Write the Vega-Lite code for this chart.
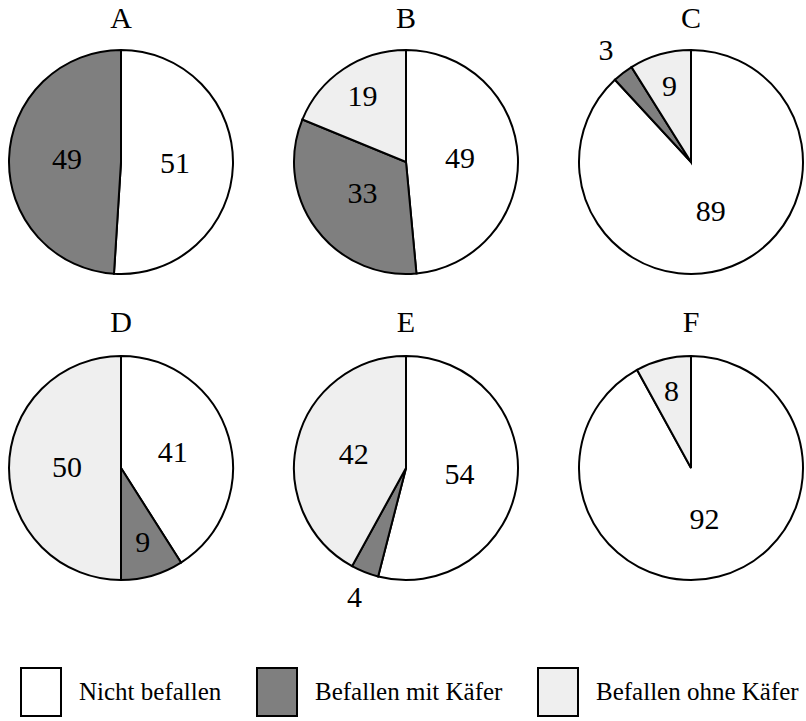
{
  "$schema": "https://vega.github.io/schema/vega-lite/v6.json",
  "background": "white",
  "bounds": "flush",
  "padding": {"left": 1, "top": 4, "right": 0, "bottom": 0},
  "data": {
    "values": [
      {"Diagramm": "A", "Kategorie": "Nicht befallen", "Nr": 1, "Anteil": 51},
      {"Diagramm": "A", "Kategorie": "Befallen mit Käfer", "Nr": 2, "Anteil": 49},
      {"Diagramm": "B", "Kategorie": "Nicht befallen", "Nr": 1, "Anteil": 49},
      {"Diagramm": "B", "Kategorie": "Befallen mit Käfer", "Nr": 2, "Anteil": 33},
      {"Diagramm": "B", "Kategorie": "Befallen ohne Käfer", "Nr": 3, "Anteil": 19},
      {"Diagramm": "C", "Kategorie": "Nicht befallen", "Nr": 1, "Anteil": 89},
      {"Diagramm": "C", "Kategorie": "Befallen mit Käfer", "Nr": 2, "Anteil": 3},
      {"Diagramm": "C", "Kategorie": "Befallen ohne Käfer", "Nr": 3, "Anteil": 9},
      {"Diagramm": "D", "Kategorie": "Nicht befallen", "Nr": 1, "Anteil": 41},
      {"Diagramm": "D", "Kategorie": "Befallen mit Käfer", "Nr": 2, "Anteil": 9},
      {"Diagramm": "D", "Kategorie": "Befallen ohne Käfer", "Nr": 3, "Anteil": 50},
      {"Diagramm": "E", "Kategorie": "Nicht befallen", "Nr": 1, "Anteil": 54},
      {"Diagramm": "E", "Kategorie": "Befallen mit Käfer", "Nr": 2, "Anteil": 4},
      {"Diagramm": "E", "Kategorie": "Befallen ohne Käfer", "Nr": 3, "Anteil": 42},
      {"Diagramm": "F", "Kategorie": "Nicht befallen", "Nr": 1, "Anteil": 92},
      {"Diagramm": "F", "Kategorie": "Befallen ohne Käfer", "Nr": 3, "Anteil": 8}
    ]
  },
  "columns": 3,
  "spacing": {"column": 45, "row": 66},
  "concat": [
    {"transform": [{"filter": "datum.Diagramm == 'A'"}], "width": 240, "height": 240, "layer": [
      {"mark": {"type": "arc", "outerRadius": 112, "stroke": "black", "strokeWidth": 2},
       "encoding": {"theta": {"field": "Anteil", "type": "quantitative", "stack": "normalize"}, "order": {"field": "Nr", "type": "quantitative"},
         "color": {"field": "Kategorie", "type": "nominal", "scale": {"domain": ["Nicht befallen", "Befallen mit Käfer", "Befallen ohne Käfer"], "range": ["#ffffff", "#7f7f7f", "#efefef"]}, "legend": {"title": null}}}},
      {"mark": {"type": "text", "font": "Liberation Serif", "fontSize": 30, "fill": "black"},
       "encoding": {"theta": {"field": "Anteil", "type": "quantitative", "stack": "normalize"}, "order": {"field": "Nr", "type": "quantitative"},
         "radius": {"field": "Anteil", "type": "quantitative", "scale": {"type": "linear", "zero": false, "domain": [0, 4.99, 5, 19.99, 20, 100], "range": [140, 140, 78, 78, 54, 54]}},
         "text": {"field": "Anteil", "type": "quantitative"}}},
      {"transform": [{"filter": "datum.Nr == 1"}], "mark": {"type": "text", "radius": 143, "theta": 0, "font": "Liberation Serif", "fontSize": 30, "fill": "black", "baseline": "middle"},
       "encoding": {"text": {"field": "Diagramm", "type": "nominal"}}}
    ]},
    {"transform": [{"filter": "datum.Diagramm == 'B'"}], "width": 240, "height": 240, "layer": [
      {"mark": {"type": "arc", "outerRadius": 112, "stroke": "black", "strokeWidth": 2},
       "encoding": {"theta": {"field": "Anteil", "type": "quantitative", "stack": "normalize"}, "order": {"field": "Nr", "type": "quantitative"},
         "color": {"field": "Kategorie", "type": "nominal", "scale": {"domain": ["Nicht befallen", "Befallen mit Käfer", "Befallen ohne Käfer"], "range": ["#ffffff", "#7f7f7f", "#efefef"]}, "legend": {"title": null}}}},
      {"mark": {"type": "text", "font": "Liberation Serif", "fontSize": 30, "fill": "black"},
       "encoding": {"theta": {"field": "Anteil", "type": "quantitative", "stack": "normalize"}, "order": {"field": "Nr", "type": "quantitative"},
         "radius": {"field": "Anteil", "type": "quantitative", "scale": {"type": "linear", "zero": false, "domain": [0, 4.99, 5, 19.99, 20, 100], "range": [140, 140, 78, 78, 54, 54]}},
         "text": {"field": "Anteil", "type": "quantitative"}}},
      {"transform": [{"filter": "datum.Nr == 1"}], "mark": {"type": "text", "radius": 143, "theta": 0, "font": "Liberation Serif", "fontSize": 30, "fill": "black", "baseline": "middle"},
       "encoding": {"text": {"field": "Diagramm", "type": "nominal"}}}
    ]},
    {"transform": [{"filter": "datum.Diagramm == 'C'"}], "width": 240, "height": 240, "layer": [
      {"mark": {"type": "arc", "outerRadius": 112, "stroke": "black", "strokeWidth": 2},
       "encoding": {"theta": {"field": "Anteil", "type": "quantitative", "stack": "normalize"}, "order": {"field": "Nr", "type": "quantitative"},
         "color": {"field": "Kategorie", "type": "nominal", "scale": {"domain": ["Nicht befallen", "Befallen mit Käfer", "Befallen ohne Käfer"], "range": ["#ffffff", "#7f7f7f", "#efefef"]}, "legend": {"title": null}}}},
      {"mark": {"type": "text", "font": "Liberation Serif", "fontSize": 30, "fill": "black"},
       "encoding": {"theta": {"field": "Anteil", "type": "quantitative", "stack": "normalize"}, "order": {"field": "Nr", "type": "quantitative"},
         "radius": {"field": "Anteil", "type": "quantitative", "scale": {"type": "linear", "zero": false, "domain": [0, 4.99, 5, 19.99, 20, 100], "range": [140, 140, 78, 78, 54, 54]}},
         "text": {"field": "Anteil", "type": "quantitative"}}},
      {"transform": [{"filter": "datum.Nr == 1"}], "mark": {"type": "text", "radius": 143, "theta": 0, "font": "Liberation Serif", "fontSize": 30, "fill": "black", "baseline": "middle"},
       "encoding": {"text": {"field": "Diagramm", "type": "nominal"}}}
    ]},
    {"transform": [{"filter": "datum.Diagramm == 'D'"}], "width": 240, "height": 240, "layer": [
      {"mark": {"type": "arc", "outerRadius": 112, "stroke": "black", "strokeWidth": 2},
       "encoding": {"theta": {"field": "Anteil", "type": "quantitative", "stack": "normalize"}, "order": {"field": "Nr", "type": "quantitative"},
         "color": {"field": "Kategorie", "type": "nominal", "scale": {"domain": ["Nicht befallen", "Befallen mit Käfer", "Befallen ohne Käfer"], "range": ["#ffffff", "#7f7f7f", "#efefef"]}, "legend": {"title": null}}}},
      {"mark": {"type": "text", "font": "Liberation Serif", "fontSize": 30, "fill": "black"},
       "encoding": {"theta": {"field": "Anteil", "type": "quantitative", "stack": "normalize"}, "order": {"field": "Nr", "type": "quantitative"},
         "radius": {"field": "Anteil", "type": "quantitative", "scale": {"type": "linear", "zero": false, "domain": [0, 4.99, 5, 19.99, 20, 100], "range": [140, 140, 78, 78, 54, 54]}},
         "text": {"field": "Anteil", "type": "quantitative"}}},
      {"transform": [{"filter": "datum.Nr == 1"}], "mark": {"type": "text", "radius": 145, "theta": 0, "font": "Liberation Serif", "fontSize": 30, "fill": "black", "baseline": "middle"},
       "encoding": {"text": {"field": "Diagramm", "type": "nominal"}}}
    ]},
    {"transform": [{"filter": "datum.Diagramm == 'E'"}], "width": 240, "height": 240, "layer": [
      {"mark": {"type": "arc", "outerRadius": 112, "stroke": "black", "strokeWidth": 2},
       "encoding": {"theta": {"field": "Anteil", "type": "quantitative", "stack": "normalize"}, "order": {"field": "Nr", "type": "quantitative"},
         "color": {"field": "Kategorie", "type": "nominal", "scale": {"domain": ["Nicht befallen", "Befallen mit Käfer", "Befallen ohne Käfer"], "range": ["#ffffff", "#7f7f7f", "#efefef"]}, "legend": {"title": null}}}},
      {"mark": {"type": "text", "font": "Liberation Serif", "fontSize": 30, "fill": "black"},
       "encoding": {"theta": {"field": "Anteil", "type": "quantitative", "stack": "normalize"}, "order": {"field": "Nr", "type": "quantitative"},
         "radius": {"field": "Anteil", "type": "quantitative", "scale": {"type": "linear", "zero": false, "domain": [0, 4.99, 5, 19.99, 20, 100], "range": [140, 140, 78, 78, 54, 54]}},
         "text": {"field": "Anteil", "type": "quantitative"}}},
      {"transform": [{"filter": "datum.Nr == 1"}], "mark": {"type": "text", "radius": 145, "theta": 0, "font": "Liberation Serif", "fontSize": 30, "fill": "black", "baseline": "middle"},
       "encoding": {"text": {"field": "Diagramm", "type": "nominal"}}}
    ]},
    {"transform": [{"filter": "datum.Diagramm == 'F'"}], "width": 240, "height": 240, "layer": [
      {"mark": {"type": "arc", "outerRadius": 112, "stroke": "black", "strokeWidth": 2},
       "encoding": {"theta": {"field": "Anteil", "type": "quantitative", "stack": "normalize"}, "order": {"field": "Nr", "type": "quantitative"},
         "color": {"field": "Kategorie", "type": "nominal", "scale": {"domain": ["Nicht befallen", "Befallen mit Käfer", "Befallen ohne Käfer"], "range": ["#ffffff", "#7f7f7f", "#efefef"]}, "legend": {"title": null}}}},
      {"mark": {"type": "text", "font": "Liberation Serif", "fontSize": 30, "fill": "black"},
       "encoding": {"theta": {"field": "Anteil", "type": "quantitative", "stack": "normalize"}, "order": {"field": "Nr", "type": "quantitative"},
         "radius": {"field": "Anteil", "type": "quantitative", "scale": {"type": "linear", "zero": false, "domain": [0, 4.99, 5, 19.99, 20, 100], "range": [140, 140, 78, 78, 54, 54]}},
         "text": {"field": "Anteil", "type": "quantitative"}}},
      {"transform": [{"filter": "datum.Nr == 1"}], "mark": {"type": "text", "radius": 145, "theta": 0, "font": "Liberation Serif", "fontSize": 30, "fill": "black", "baseline": "middle"},
       "encoding": {"text": {"field": "Diagramm", "type": "nominal"}}}
    ]}
  ],
  "config": {
    "view": {"stroke": null},
    "legend": {
      "orient": "bottom",
      "direction": "horizontal",
      "padding": 15,
      "symbolType": "M-0.8333,-1L0.8333,-1L0.8333,1L-0.8333,1Z",
      "symbolSize": 2304,
      "symbolStrokeColor": "black",
      "symbolStrokeWidth": 2,
      "symbolOpacity": 1,
      "labelFont": "Liberation Serif",
      "labelFontSize": 25,
      "labelColor": "black",
      "labelOffset": 13,
      "columnPadding": 30,
      "labelLimit": 400,
      "offset": 38
    }
  }
}
